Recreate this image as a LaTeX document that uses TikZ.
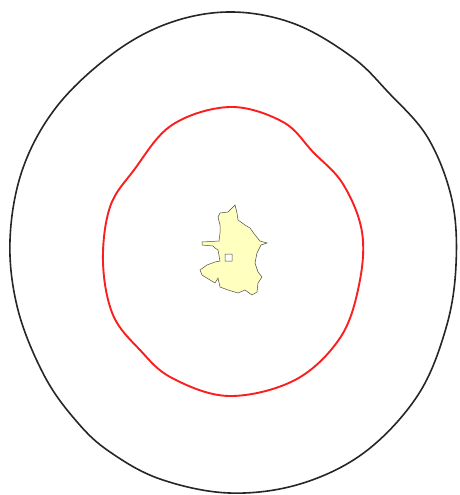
\documentclass[tikz,border=0pt]{standalone}
\begin{document}
\begin{tikzpicture}[x=1pt,y=-1pt,
  outerloop/.style={draw=black!85,line width=1.6pt},
  innerloop/.style={draw={rgb,255:red,250;green,30;blue,30},line width=1.9pt},
  blob/.style={fill={rgb,255:red,255;green,255;blue,192},draw=black!70,line width=0.5pt,even odd rule}]
\useasboundingbox[fill=white] (0,0) rectangle (460,495);
% outer black boundary
\draw[outerloop] plot[smooth cycle,tension=0.6] coordinates {
 (233,12) (295,24) (352,57) (388,92) (428,138) (452,200) (456,265)
 (446,328) (418,395) (365,452) (300,484) (229,493) (160,479) (110,452)
 (78,423) (45,377) (18,310) (10,240) (23,168) (58,105) (115,52) (172,22)};
% inner red boundary
\draw[innerloop] plot[smooth cycle,tension=0.6] coordinates {
 (230,107) (283,122) (313,152) (343,184) (362,232) (359,285) (340,338)
 (295,380) (229,396) (172,378) (140,350) (113,315) (103,262) (110,207)
 (134,170) (172,125)};
% central shape
\path[blob] (235,205) -- (237,213) -- (238,220) -- (245,225) -- (250,228) -- (255,235)
 -- (260,241) -- (267,243) -- (261,245) -- (257,253) -- (255,263) -- (258,272)
 -- (262,277) -- (258,283) -- (257,292) -- (252,295) -- (245,290) -- (238,293)
 -- (228,290) -- (220,287) -- (218,278) -- (215,283) -- (210,280) -- (202,275)
 -- (200,270) -- (207,265) -- (215,262) -- (220,261) -- (218,250) -- (215,248)
 -- (213,246) -- (202,245) -- (202,242) -- (219,241) -- (220,233) -- (220,225)
 -- (218,217) -- (220,213) -- (228,212) -- cycle
 (225,254) rectangle (232,261);
\end{tikzpicture}
\end{document}
